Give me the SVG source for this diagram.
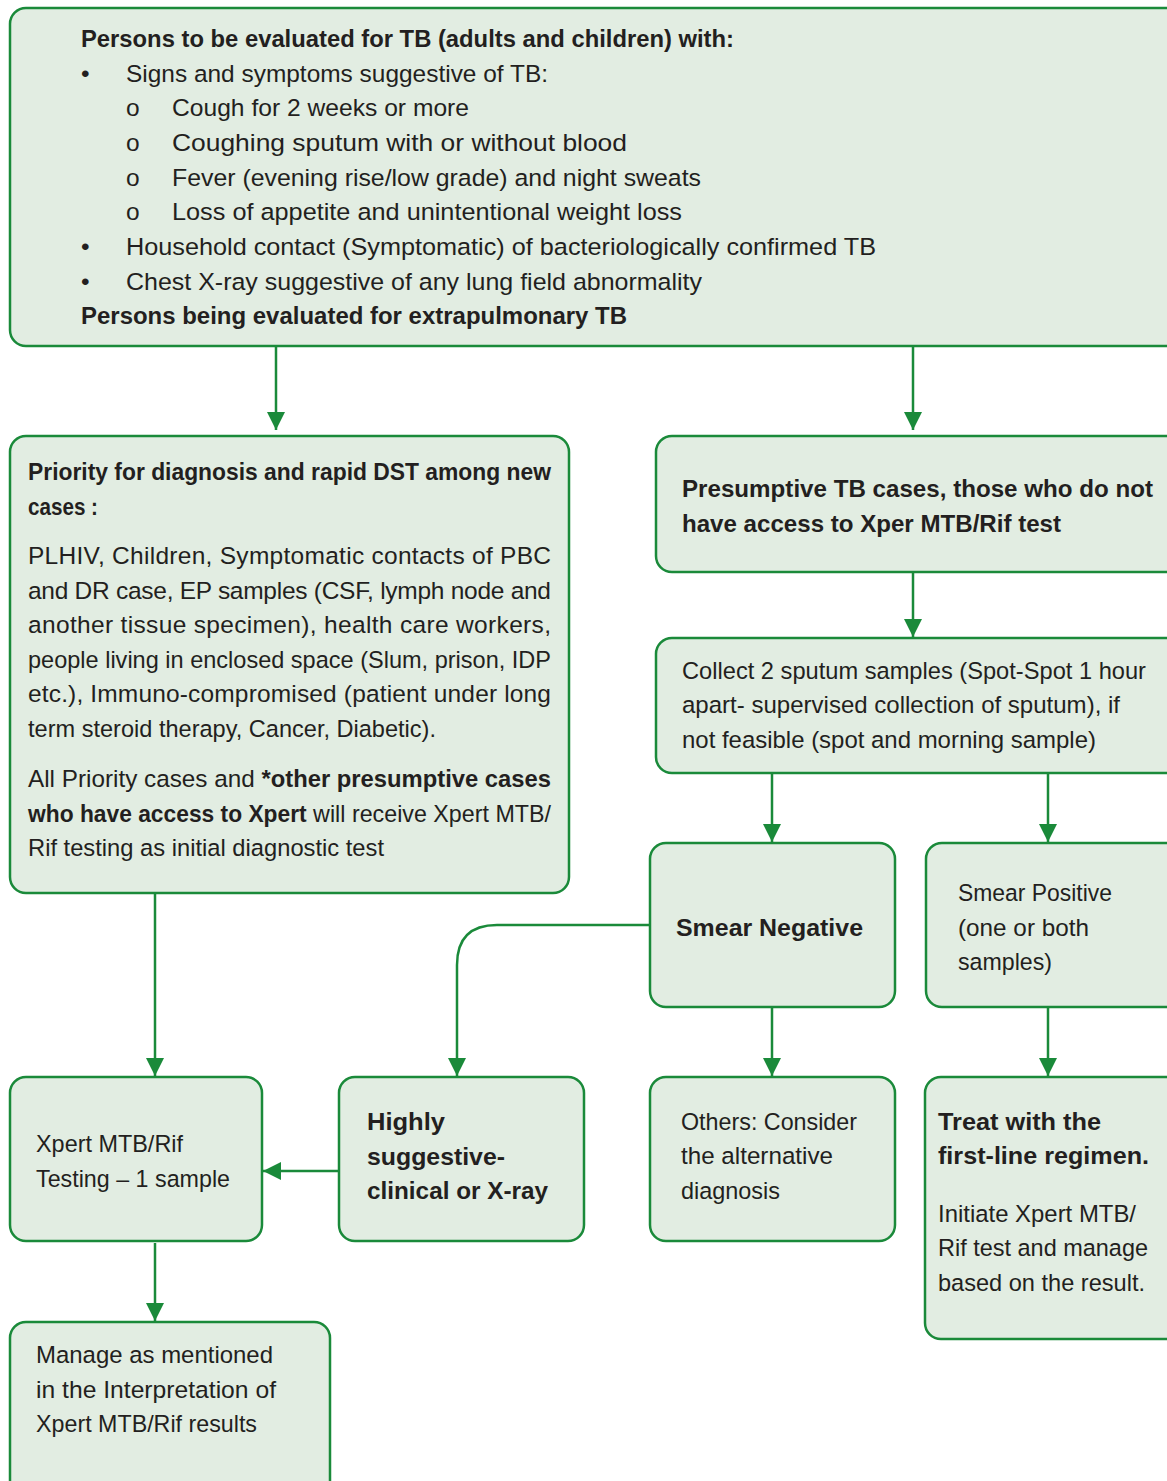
<svg xmlns="http://www.w3.org/2000/svg" width="1167" height="1481" viewBox="0 0 1167 1481">
<style>
.box{fill:#e2ede2;stroke:#1a8a3a;stroke-width:2.5}
.t{font-family:"Liberation Sans",Arial,sans-serif;font-size:24.5px;fill:#231f20}
.b{font-weight:bold;font-size:24px}
.c{fill:none;stroke:#1a8a3a;stroke-width:2.5}
</style>
<defs>
<marker id="ah" markerUnits="userSpaceOnUse" markerWidth="20" markerHeight="18" refX="18" refY="9" orient="auto">
<path d="M0,0 L18,9 L0,18 Z" fill="#1a8a3a"/>
</marker>
</defs>
<rect width="1167" height="1481" fill="#fff"/>
<g id="connectors">
<path class="c" d="M276,347 V430" marker-end="url(#ah)"/>
<path class="c" d="M913,347 V430" marker-end="url(#ah)"/>
<path class="c" d="M913,573 V637" marker-end="url(#ah)"/>
<path class="c" d="M772,774 V842" marker-end="url(#ah)"/>
<path class="c" d="M1048,774 V842" marker-end="url(#ah)"/>
<path class="c" d="M650,925 H497 Q457,925 457,965 V1076" marker-end="url(#ah)"/>
<path class="c" d="M772,1008 V1076" marker-end="url(#ah)"/>
<path class="c" d="M1048,1008 V1076" marker-end="url(#ah)"/>
<path class="c" d="M155,894 V1076" marker-end="url(#ah)"/>
<path class="c" d="M339,1171 H263" marker-end="url(#ah)"/>
<path class="c" d="M155,1243 V1321" marker-end="url(#ah)"/>
</g>
<g id="n-top">
<rect class="box" x="10" y="8" width="1180" height="338" rx="16"/>
<text class="t b" x="81" y="47" textLength="653" lengthAdjust="spacingAndGlyphs">Persons to be evaluated for TB (adults and children) with:</text>
<text class="t" x="81" y="82">•</text><text class="t" x="126" y="82" textLength="422" lengthAdjust="spacingAndGlyphs">Signs and symptoms suggestive of TB:</text>
<text class="t" x="126" y="116">o</text><text class="t" x="172" y="116" textLength="297" lengthAdjust="spacingAndGlyphs">Cough for 2 weeks or more</text>
<text class="t" x="126" y="151">o</text><text class="t" x="172" y="151" textLength="455" lengthAdjust="spacingAndGlyphs">Coughing  sputum with or without blood</text>
<text class="t" x="126" y="186">o</text><text class="t" x="172" y="186" textLength="529" lengthAdjust="spacingAndGlyphs">Fever (evening rise/low grade) and night sweats</text>
<text class="t" x="126" y="220">o</text><text class="t" x="172" y="220" textLength="510" lengthAdjust="spacingAndGlyphs">Loss of appetite and unintentional weight loss</text>
<text class="t" x="81" y="255">•</text><text class="t" x="126" y="255" textLength="750" lengthAdjust="spacingAndGlyphs">Household contact (Symptomatic) of bacteriologically confirmed TB</text>
<text class="t" x="81" y="290">•</text><text class="t" x="126" y="290" textLength="576" lengthAdjust="spacingAndGlyphs">Chest X-ray suggestive of any lung field abnormality</text>
<text class="t b" x="81" y="324" textLength="546" lengthAdjust="spacingAndGlyphs">Persons being evaluated for extrapulmonary TB</text>
</g>
<g id="n-priority">
<rect class="box" x="10" y="436" width="559" height="457" rx="16"/>
<text class="t b" x="28" y="480" textLength="523" lengthAdjust="spacingAndGlyphs">Priority for diagnosis and rapid DST among new</text>
<text class="t b" x="28" y="515" textLength="70" lengthAdjust="spacingAndGlyphs">cases :</text>
<text class="t" x="28" y="564" textLength="523">PLHIV, Children, Symptomatic contacts of PBC</text>
<text class="t" x="28" y="599" textLength="523">and DR case, EP samples (CSF, lymph node and</text>
<text class="t" x="28" y="633" textLength="523">another tissue specimen), health care workers,</text>
<text class="t" x="28" y="668" textLength="523" lengthAdjust="spacingAndGlyphs">people living in enclosed space (Slum, prison, IDP</text>
<text class="t" x="28" y="702" textLength="523">etc.), Immuno-compromised (patient under long</text>
<text class="t" x="28" y="737" textLength="408" lengthAdjust="spacingAndGlyphs">term steroid therapy, Cancer, Diabetic).</text>
<text class="t" x="28" y="787" textLength="523" lengthAdjust="spacingAndGlyphs">All Priority cases and <tspan class="b">*other presumptive cases</tspan></text>
<text class="t" x="28" y="822" textLength="523" lengthAdjust="spacingAndGlyphs"><tspan class="b">who have access to Xpert</tspan> will receive Xpert MTB/</text>
<text class="t" x="28" y="856" textLength="356" lengthAdjust="spacingAndGlyphs">Rif testing as initial diagnostic test</text>
</g>
<g id="n-presumptive">
<rect class="box" x="656" y="436" width="530" height="136" rx="16"/>
<text class="t b" x="682" y="497" textLength="471" lengthAdjust="spacingAndGlyphs">Presumptive TB cases, those who do not</text>
<text class="t b" x="682" y="532" textLength="379" lengthAdjust="spacingAndGlyphs">have access to Xper MTB/Rif test</text>
</g>
<g id="n-collect">
<rect class="box" x="656" y="638" width="530" height="135" rx="16"/>
<text class="t" x="682" y="679" textLength="464" lengthAdjust="spacingAndGlyphs">Collect 2 sputum samples (Spot-Spot 1 hour</text>
<text class="t" x="682" y="713" textLength="438" lengthAdjust="spacingAndGlyphs">apart- supervised collection of sputum), if</text>
<text class="t" x="682" y="748" textLength="414" lengthAdjust="spacingAndGlyphs">not feasible (spot and morning sample)</text>
</g>
<g id="n-smearneg">
<rect class="box" x="650" y="843" width="245" height="164" rx="16"/>
<text class="t b" x="676" y="936" textLength="187" lengthAdjust="spacingAndGlyphs">Smear Negative</text>
</g>
<g id="n-smearpos">
<rect class="box" x="926" y="843" width="260" height="164" rx="16"/>
<text class="t" x="958" y="901" textLength="154" lengthAdjust="spacingAndGlyphs">Smear Positive</text>
<text class="t" x="958" y="936" textLength="131" lengthAdjust="spacingAndGlyphs">(one or both</text>
<text class="t" x="958" y="970" textLength="94" lengthAdjust="spacingAndGlyphs">samples)</text>
</g>
<g id="n-xpert">
<rect class="box" x="10" y="1077" width="252" height="164" rx="16"/>
<text class="t" x="36" y="1152" textLength="147" lengthAdjust="spacingAndGlyphs">Xpert MTB/Rif</text>
<text class="t" x="36" y="1187" textLength="194" lengthAdjust="spacingAndGlyphs">Testing – 1 sample</text>
</g>
<g id="n-highly">
<rect class="box" x="339" y="1077" width="245" height="164" rx="16"/>
<text class="t b" x="367" y="1130" textLength="78" lengthAdjust="spacingAndGlyphs">Highly</text>
<text class="t b" x="367" y="1165" textLength="138" lengthAdjust="spacingAndGlyphs">suggestive-</text>
<text class="t b" x="367" y="1199" textLength="181" lengthAdjust="spacingAndGlyphs">clinical or X-ray</text>
</g>
<g id="n-others">
<rect class="box" x="650" y="1077" width="245" height="164" rx="16"/>
<text class="t" x="681" y="1130" textLength="176" lengthAdjust="spacingAndGlyphs">Others: Consider</text>
<text class="t" x="681" y="1164" textLength="152" lengthAdjust="spacingAndGlyphs">the alternative</text>
<text class="t" x="681" y="1199" textLength="99" lengthAdjust="spacingAndGlyphs">diagnosis</text>
</g>
<g id="n-treat">
<rect class="box" x="925" y="1077" width="261" height="262" rx="16"/>
<text class="t b" x="938" y="1130" textLength="163" lengthAdjust="spacingAndGlyphs">Treat with the</text>
<text class="t b" x="938" y="1164" textLength="211" lengthAdjust="spacingAndGlyphs">first-line regimen.</text>
<text class="t" x="938" y="1222" textLength="198" lengthAdjust="spacingAndGlyphs">Initiate Xpert MTB/</text>
<text class="t" x="938" y="1256" textLength="210" lengthAdjust="spacingAndGlyphs">Rif test and manage</text>
<text class="t" x="938" y="1291" textLength="207" lengthAdjust="spacingAndGlyphs">based on the result.</text>
</g>
<g id="n-manage">
<rect class="box" x="10" y="1322" width="320" height="175" rx="16"/>
<text class="t" x="36" y="1363" textLength="237" lengthAdjust="spacingAndGlyphs">Manage as mentioned</text>
<text class="t" x="36" y="1398" textLength="240" lengthAdjust="spacingAndGlyphs">in the Interpretation of</text>
<text class="t" x="36" y="1432" textLength="221" lengthAdjust="spacingAndGlyphs">Xpert MTB/Rif results</text>
</g>
</svg>
